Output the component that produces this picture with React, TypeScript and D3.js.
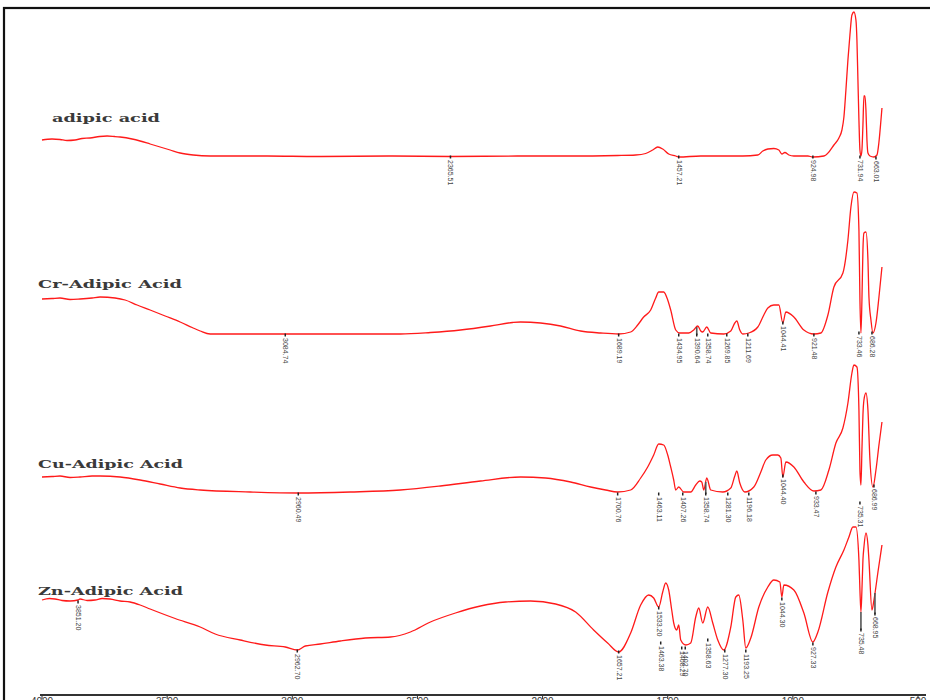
import React from 'react';
import * as d3 from 'd3';

// ---------- data (wavenumber cm-1, transmittance a.u.) ----------
const xTicks = [4000, 3500, 3000, 2500, 2000, 1500, 1000, 500];
const seriesNames = ['adipic acid', 'Cr-Adipic Acid', 'Cu-Adipic Acid', 'Zn-Adipic Acid'];

const adipicAcid: [number, number][] = [
  [4000, 111.0], [3960, 111.2], [3928, 111.1], [3900, 110.9], [3868, 111.0], [3840, 111.3], [3808, 111.4],
  [3770, 111.7], [3740, 111.8], [3710, 111.7], [3688, 111.6], [3640, 111.2], [3608, 110.8], [3568, 110.2],
  [3528, 109.6], [3488, 109.0], [3448, 108.4], [3396, 108.0], [3328, 107.8], [3100, 107.8], [2900, 107.7],
  [2600, 107.8], [2368, 107.7], [2100, 107.8], [1900, 107.8], [1700, 107.9], [1628, 108.0], [1588, 108.3],
  [1560, 109.0], [1540, 109.6], [1520, 109.2], [1496, 108.2], [1468, 107.8], [1456, 107.6], [1368, 107.8],
  [1200, 107.8], [1140, 108.0], [1120, 108.8], [1100, 109.2], [1076, 109.3], [1056, 109.0], [1044, 108.2],
  [1032, 108.5], [1016, 108.0], [996, 107.8], [940, 107.8], [920, 107.6], [876, 107.8], [856, 108.6],
  [836, 110.0], [816, 111.4], [804, 113.0], [796, 115.6], [788, 121.0], [780, 127.0], [772, 132.0],
  [764, 136.0], [756, 136.6], [748, 135.0], [744, 131.0], [740, 123.0], [736, 115.0], [732, 109.0],
  [728, 107.8], [724, 109.0], [720, 114.0], [716, 119.8], [712, 119.8], [708, 117.0], [704, 111.0],
  [700, 108.4], [692, 107.8], [676, 107.6], [664, 108.0], [656, 110.6], [648, 115.0], [644, 117.4],
];

const crAdipic: [number, number][] = [
  [4000, 79.2], [3960, 79.3], [3928, 79.4], [3888, 79.1], [3848, 79.2], [3800, 79.4], [3768, 79.6],
  [3708, 79.4], [3668, 79.0], [3620, 78.0], [3568, 77.0], [3508, 75.8], [3448, 74.6], [3400, 73.5],
  [3368, 72.8], [3328, 72.2], [3028, 72.2], [2700, 72.2], [2568, 72.2], [2448, 72.5], [2328, 73.0],
  [2208, 73.8], [2120, 74.5], [2088, 74.6], [2008, 74.4], [1928, 73.8], [1848, 72.8], [1768, 72.4],
  [1696, 72.2], [1648, 72.6], [1620, 74.0], [1596, 75.6], [1568, 77.0], [1548, 79.4], [1536, 80.6],
  [1516, 80.6], [1500, 79.0], [1488, 77.0], [1468, 73.0], [1452, 72.4], [1416, 72.4], [1396, 73.0],
  [1380, 73.8], [1368, 72.8], [1360, 72.6], [1344, 73.6], [1328, 72.4], [1276, 72.2], [1248, 72.8],
  [1232, 74.4], [1224, 74.8], [1212, 73.0], [1200, 72.2], [1176, 72.4], [1140, 73.6], [1116, 76.0],
  [1100, 77.4], [1076, 78.0], [1056, 78.0], [1040, 74.4], [1028, 76.6], [996, 75.6], [956, 73.0],
  [916, 72.2], [888, 72.4], [860, 76.0], [836, 81.6], [800, 84.4], [780, 91.0], [768, 97.6],
  [756, 100.6], [744, 100.4], [736, 93.0], [732, 79.0], [728, 72.4], [724, 79.0], [720, 89.0],
  [716, 92.4], [708, 92.6], [700, 87.0], [696, 79.6], [688, 75.0], [680, 72.4], [668, 74.4],
  [656, 79.6], [644, 85.6],
];

const cuAdipic: [number, number][] = [
  [4000, 43.6], [3960, 43.7], [3928, 43.8], [3888, 43.5], [3848, 43.6], [3800, 43.8], [3768, 43.8],
  [3688, 43.6], [3608, 43.0], [3528, 42.2], [3448, 41.4], [3368, 41.0], [3168, 40.6], [2976, 40.4],
  [2768, 40.6], [2568, 41.0], [2408, 41.8], [2248, 42.8], [2088, 43.6], [1988, 43.4], [1888, 42.6],
  [1808, 41.6], [1748, 41.0], [1700, 40.6], [1648, 41.0], [1608, 43.4], [1580, 45.6], [1556, 48.0],
  [1536, 50.2], [1516, 50.0], [1500, 48.0], [1488, 45.6], [1476, 43.0], [1468, 41.0], [1456, 41.6],
  [1436, 40.6], [1408, 40.6], [1388, 42.0], [1372, 42.8], [1364, 42.6], [1356, 41.0], [1344, 43.4],
  [1328, 41.0], [1280, 40.6], [1248, 41.4], [1232, 43.8], [1224, 44.8], [1212, 42.4], [1192, 40.6],
  [1156, 41.6], [1128, 44.6], [1108, 47.0], [1080, 48.0], [1060, 48.0], [1048, 47.4], [1040, 43.6],
  [1028, 46.6], [996, 45.6], [956, 42.6], [916, 40.8], [888, 41.0], [856, 45.0], [828, 50.4],
  [800, 53.4], [780, 58.4], [764, 64.4], [756, 66.0], [744, 65.6], [736, 57.0], [732, 45.0],
  [728, 42.0], [724, 49.0], [720, 56.0], [716, 59.0], [708, 60.4], [700, 57.0], [692, 47.0],
  [680, 41.6], [668, 45.0], [656, 50.0], [644, 54.6],
];

const znAdipic: [number, number][] = [
  [4000, 19.0], [3970, 19.3], [3948, 19.2], [3920, 18.9], [3888, 18.8], [3856, 19.0], [3848, 19.2],
  [3820, 18.9], [3788, 19.0], [3760, 19.3], [3728, 19.2], [3688, 18.8], [3648, 18.6], [3608, 18.0],
  [3568, 17.2], [3468, 15.3], [3368, 13.6], [3308, 12.2], [3208, 11.0], [3108, 10.0], [3028, 9.6],
  [2980, 9.0], [2948, 9.8], [2888, 10.2], [2808, 10.8], [2708, 11.4], [2608, 11.6], [2528, 12.6],
  [2448, 14.6], [2348, 16.4], [2248, 17.8], [2148, 18.6], [2048, 18.8], [1948, 18.2], [1868, 16.6],
  [1796, 13.0], [1740, 10.4], [1696, 8.6], [1648, 12.4], [1608, 18.0], [1576, 20.0], [1556, 19.4],
  [1536, 17.6], [1520, 20.6], [1508, 22.4], [1496, 21.0], [1484, 17.0], [1476, 14.4], [1464, 13.0],
  [1456, 14.0], [1448, 11.0], [1428, 10.0], [1408, 10.4], [1388, 15.6], [1376, 17.4], [1360, 14.4],
  [1340, 17.6], [1320, 14.4], [1300, 11.0], [1276, 9.0], [1248, 13.6], [1228, 19.6], [1216, 20.0],
  [1200, 15.0], [1188, 9.4], [1168, 11.4], [1136, 17.6], [1100, 21.6], [1076, 23.0], [1052, 22.6],
  [1044, 19.6], [1036, 22.0], [996, 21.0], [956, 16.4], [920, 10.6], [900, 12.6], [860, 20.6],
  [828, 25.6], [796, 29.0], [776, 31.6], [760, 33.6], [748, 33.6], [736, 27.0], [732, 21.0],
  [728, 16.6], [724, 21.0], [720, 27.0], [716, 29.6], [708, 32.4], [700, 30.0], [696, 27.0],
  [684, 17.0], [676, 19.0], [660, 24.6], [644, 30.0],
];

// peak annotations: [wavenumber, label level, text]
const adipicPeaks: [number, number, string][] = [
  [2368, 107.6, '2365.51'], [1456, 107.6, '1457.21'], [920, 107.6, '924.98'],
  [732, 107.6, '731.94'], [668, 107.4, '663.01'],
];
const crPeaks: [number, number, string][] = [
  [3028, 72.0, '3084.74'], [1696, 72.0, '1689.19'], [1456, 72.0, '1434.95'], [1384, 72.0, '1390.64'],
  [1340, 72.0, '1358.74'], [1264, 72.0, '1269.85'], [1180, 72.0, '1211.69'], [1040, 74.4, '1044.41'],
  [916, 72.0, '921.48'], [736, 72.4, '733.46'], [684, 72.4, '686.28'],
];
const cuPeaks: [number, number, string][] = [
  [2976, 40.2, '2960.49'], [1700, 40.2, '1700.76'], [1536, 40.2, '1463.11'], [1440, 40.2, '1407.26'],
  [1348, 40.2, '1358.74'], [1260, 40.2, '1281.30'], [1176, 40.2, '1196.18'], [1040, 43.8, '1044.40'],
  [908, 40.4, '933.47'], [732, 38.4, '735.31'], [676, 41.8, '686.99'],
];
const znPeaks: [number, number, string][] = [
  [3856, 18.6, '3851.20'], [2980, 8.8, '2962.70'], [1696, 8.6, '1657.21'], [1536, 17.4, '1533.20'],
  [1528, 10.4, '1463.38'], [1444, 9.4, '1408.29'], [1430, 9.4, '1402.70'], [1340, 11.0, '1358.63'],
  [1272, 8.8, '1277.30'], [1188, 8.8, '1193.25'], [1044, 19.2, '1044.30'], [920, 10.2, '927.33'],
  [728, 13.0, '735.48'], [672, 16.2, '668.95'],
];

// ---------- layout ----------
const W = 930;
const H = 700;
const titleX = [52, 38, 38, 38];
const titleWidth = [108, 144, 145, 145];
const titleLevel = [114.6, 81.4, 45.4, 20.0];

const allSeries = [adipicAcid, crAdipic, cuAdipic, znAdipic];
const allPeaks = [adipicPeaks, crPeaks, cuPeaks, znPeaks];

function valueAt(data: [number, number][], w: number): number {
  for (let i = 0; i < data.length - 1; i++) {
    const [w0, v0] = data[i];
    const [w1, v1] = data[i + 1];
    if (w <= w0 && w >= w1) {
      const t = (w0 - w) / (w0 - w1 || 1);
      return v0 + (v1 - v0) * t;
    }
  }
  return data[data.length - 1][1];
}

export default function App() {
  const x = d3.scaleLinear().domain([4000, 500]).range([42, 918]);
  const y = d3.scaleLinear().domain([0, 138]).range([695, 5]);
  const line = d3
    .line<[number, number]>()
    .x((d) => x(d[0]))
    .y((d) => y(d[1]))
    .curve(d3.curveMonotoneX);

  return (
    <svg
      width={W}
      height={H}
      style={{ position: 'absolute', left: 0, top: 0, background: '#fff' }}
    >
      <rect x={0} y={0} width={W} height={H} fill="#fff" />
      {/* frame */}
      <rect x={4} y={8} width={960} height={740} fill="none" stroke="#111" strokeWidth={2.2} />

      {/* spectra */}
      {allSeries.map((s, i) => (
        <path key={'s' + i} d={line(s) || ''} fill="none" stroke="#ff1a1a" strokeWidth={1.3} strokeLinejoin="round" />
      ))}

      {/* series titles */}
      {seriesNames.map((n, i) => (
        <text
          key={'t' + i}
          x={titleX[i]}
          y={y(titleLevel[i])}
          fontFamily="'DejaVu Serif', 'Liberation Serif', serif"
          fontWeight="bold"
          fontSize={11.5}
          textLength={titleWidth[i]}
          lengthAdjust="spacingAndGlyphs"
          fill="#3a3a3a"
        >
          {n}
        </text>
      ))}

      {/* peak labels */}
      {allPeaks.map((peaks, i) =>
        peaks.map(([w, lvl, txt], j) => {
          const tx = x(w);
          const ty = y(lvl);
          const tv = valueAt(allSeries[i], w);
          const gap = tv - lvl;
          return (
            <g key={`p${i}-${j}`}>
              {gap > 1.5 && gap < 6 && (
                <line x1={tx} x2={tx} y1={y(tv)} y2={ty} stroke="#555" strokeWidth={1.6} />
              )}
              <line x1={tx} x2={tx} y1={ty - 1.5} y2={ty + 1.5} stroke="#222" strokeWidth={1.5} />
              <text
                transform={`translate(${tx - 2},${ty + 3}) rotate(90)`}
                fontFamily="'Liberation Sans', Arial, sans-serif"
                fontSize={7}
                fill="#444"
              >
                {txt}
              </text>
            </g>
          );
        })
      )}

      {/* bottom axis */}
      <line x1={40} x2={926} y1={695} y2={695} stroke="#333" strokeWidth={2} />
      {xTicks.map((t) => (
        <g key={'x' + t}>
          <line x1={x(t)} x2={x(t)} y1={695} y2={699} stroke="#333" strokeWidth={1} />
          <text
            x={x(t)}
            y={698}
            dominantBaseline="hanging"
            textAnchor="middle"
            fontFamily="'Liberation Sans', Arial, sans-serif"
            fontSize={10}
            fill="#333"
          >
            {t}
          </text>
        </g>
      ))}
    </svg>
  );
}
